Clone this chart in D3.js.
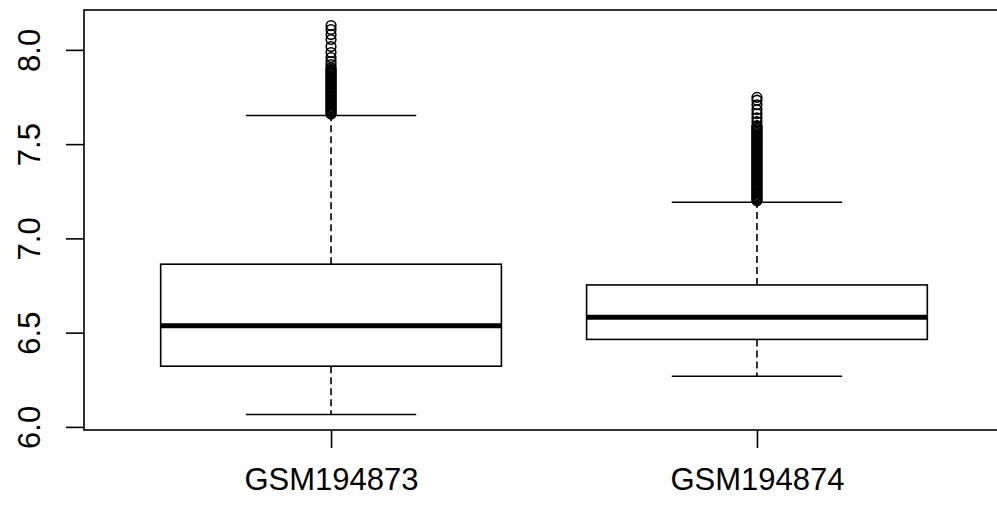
<!DOCTYPE html>
<html>
<head>
<meta charset="utf-8">
<script src="https://cdn.jsdelivr.net/npm/d3@7"></script>
<style>
  body { margin: 0; background: #fff; }
  svg text { font-family: "Liberation Sans", Arial, sans-serif; fill: #000; }
</style>
</head>
<body>
<div class="container"></div>
<script>
const WIDTH = 997;
const HEIGHT = 506;
const LEFT = 84, TOP = 10, RIGHT = 1004, BOTTOM = 430;

// samples
var samples = ["GSM194873", "GSM194874"];

// box statistics: lower whisker, Q1, median, Q3, upper whisker
var lowerWhisker = [6.066, 6.269];
var q1 = [6.322, 6.464];
var medians = [6.537, 6.581];
var q3 = [6.863, 6.753];
var upperWhisker = [7.652, 7.192];

var outliers1 = [8.129, 8.108, 8.081, 8.055, 8.018, 7.986, 7.959, 7.938, 7.922,
  7.905, 7.897, 7.890, 7.883, 7.876, 7.869, 7.862, 7.855, 7.848, 7.841, 7.834,
  7.827, 7.820, 7.813, 7.806, 7.799, 7.792, 7.785, 7.778, 7.771, 7.764, 7.757,
  7.750, 7.743, 7.736, 7.729, 7.722, 7.715, 7.708, 7.701, 7.694, 7.687, 7.680,
  7.673, 7.666, 7.659];
var outliers2 = [7.748, 7.733, 7.709, 7.683, 7.661, 7.640, 7.619,
  7.598, 7.591, 7.584, 7.577, 7.570, 7.563, 7.556, 7.549, 7.542, 7.535, 7.528,
  7.521, 7.514, 7.507, 7.500, 7.493, 7.486, 7.479, 7.472, 7.465, 7.458, 7.451,
  7.444, 7.437, 7.430, 7.423, 7.416, 7.409, 7.402, 7.395, 7.388, 7.381, 7.374,
  7.367, 7.360, 7.353, 7.346, 7.339, 7.332, 7.325, 7.318, 7.311, 7.304, 7.297,
  7.290, 7.283, 7.276, 7.269, 7.262, 7.255, 7.248, 7.241, 7.234, 7.227, 7.220,
  7.213, 7.206, 7.199];
var outliers = [outliers1, outliers2];

var yTicks = [6.0, 6.5, 7.0, 7.5, 8.0];

var translate = function(x, y){
  return "translate(" + x + "," + y + ")";
};

var svg = d3.select('.container').append('svg')
  .attr('width', WIDTH)
  .attr('height', HEIGHT);

var xScale = d3.scaleLinear().domain([0.42, 2.58]).range([LEFT, RIGHT]);
var yScale = d3.scaleLinear().domain([5.9835, 8.2115]).range([BOTTOM, TOP]);

var LW = 1.6;
var FONT = '31px';
var boxHalf = xScale(1.4) - xScale(1);   // boxwex 0.8
var capHalf = boxHalf / 2;

var data = samples.map(function(s, i){
  return {i: i + 1, lo: lowerWhisker[i], q1: q1[i], med: medians[i], q3: q3[i], hi: upperWhisker[i], out: outliers[i]};
});

var g = svg.append('g');

data.forEach(function(d){
  var cx = xScale(d.i);
  // whiskers
  g.append('line').attr('x1', cx).attr('x2', cx)
    .attr('y1', yScale(d.q3)).attr('y2', yScale(d.hi))
    .attr('stroke', '#000').attr('stroke-width', LW).attr('stroke-dasharray', '7,4');
  g.append('line').attr('x1', cx).attr('x2', cx)
    .attr('y1', yScale(d.q1)).attr('y2', yScale(d.lo))
    .attr('stroke', '#000').attr('stroke-width', LW).attr('stroke-dasharray', '7,4');
  // caps
  [d.lo, d.hi].forEach(function(v){
    g.append('line').attr('x1', cx - capHalf).attr('x2', cx + capHalf)
      .attr('y1', yScale(v)).attr('y2', yScale(v))
      .attr('stroke', '#000').attr('stroke-width', LW);
  });
  // box
  g.append('rect')
    .attr('x', cx - boxHalf).attr('width', 2 * boxHalf)
    .attr('y', yScale(d.q3)).attr('height', yScale(d.q1) - yScale(d.q3))
    .attr('fill', '#fff').attr('stroke', '#000').attr('stroke-width', LW);
  // median
  g.append('line').attr('x1', cx - boxHalf).attr('x2', cx + boxHalf)
    .attr('y1', yScale(d.med)).attr('y2', yScale(d.med))
    .attr('stroke', '#000').attr('stroke-width', 5);
  // outliers
  g.selectAll(null).data(d.out).enter().append('circle')
    .attr('cx', cx).attr('cy', function(v){ return yScale(v); })
    .attr('r', 4.8)
    .attr('fill', 'none').attr('stroke', '#000').attr('stroke-width', 1.6);
});

// frame
svg.append('rect')
  .attr('x', LEFT).attr('y', TOP)
  .attr('width', RIGHT - LEFT).attr('height', BOTTOM - TOP)
  .attr('fill', 'none').attr('stroke', '#000').attr('stroke-width', LW);

// y axis
var yAxis = d3.axisLeft(yScale).tickValues(yTicks).tickSize(18).tickFormat(d3.format('.1f'));
var ya = svg.append('g').attr('transform', translate(LEFT, 0)).call(yAxis);
ya.select('.domain').remove();
ya.selectAll('.tick line').attr('stroke', '#000').attr('stroke-width', LW);
ya.selectAll('.tick text')
  .attr('x', null).attr('dy', null)
  .attr('transform', 'translate(-44,0) rotate(-90)')
  .attr('text-anchor', 'middle')
  .style('font-size', FONT);

// x axis
var xAxis = d3.axisBottom(xScale).tickValues([1, 2]).tickSize(18)
  .tickFormat(function(v){ return samples[v - 1]; });
var xa = svg.append('g').attr('transform', translate(0, BOTTOM)).call(xAxis);
xa.select('.domain').remove();
xa.selectAll('.tick line').attr('stroke', '#000').attr('stroke-width', LW);
xa.selectAll('.tick text')
  .attr('y', 60).attr('dy', null)
  .style('font-size', FONT);
</script>
</body>
</html>
